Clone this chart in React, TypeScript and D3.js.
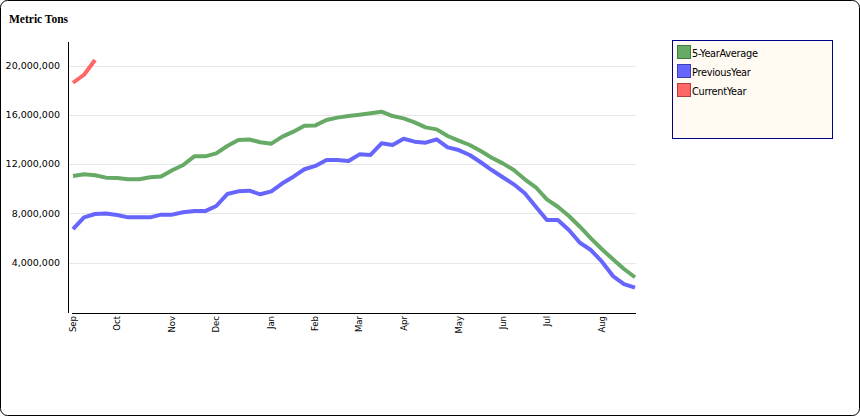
import React from "react";
import * as d3 from "d3";

const monthLabels = ["Sep", "Oct", "Nov", "Dec", "Jan", "Feb", "Mar", "Apr", "May", "Jun", "Jul", "Aug"];
const monthWeeks = [0, 4, 9, 13, 18, 22, 26, 30, 35, 39, 43, 48];
const yTicks = [4000000, 8000000, 12000000, 16000000, 20000000];

const fiveYearAverage = [
  11.03, 11.17, 11.09, 10.9, 10.87, 10.77, 10.77, 10.93, 11.0, 11.5,
  11.93, 12.63, 12.63, 12.87, 13.47, 13.95, 14.0, 13.77, 13.66, 14.23,
  14.63, 15.12, 15.14, 15.58, 15.77, 15.9, 16.01, 16.12, 16.25, 15.9,
  15.71, 15.39, 14.98, 14.82, 14.28, 13.9, 13.55, 13.06, 12.52, 12.06,
  11.52, 10.77, 10.12, 9.14, 8.54, 7.79, 6.92, 5.98, 5.09, 4.28,
  3.49, 2.82,
];
const previousYear = [
  6.73, 7.68, 7.95, 8.0, 7.87, 7.68, 7.68, 7.68, 7.9, 7.9,
  8.09, 8.19, 8.19, 8.6, 9.57, 9.79, 9.84, 9.55, 9.79, 10.44,
  10.98, 11.58, 11.85, 12.33, 12.33, 12.25, 12.79, 12.74, 13.69, 13.55,
  14.06, 13.82, 13.74, 14.01, 13.36, 13.14, 12.74, 12.15, 11.52, 10.93,
  10.36, 9.63, 8.54, 7.46, 7.46, 6.65, 5.62, 5.03, 4.08, 2.92,
  2.27, 1.97,
];
const currentYear = [18.6, 19.25, 20.45];

const seriesNames = ["5-YearAverage", "PreviousYear", "CurrentYear"];
const seriesColors = ["#66AA66", "#6666FF", "#FF6666"];
const seriesStroke = ["#3f7a3f", "#3f3fb0", "#b04040"];

export default function App() {
  const W = 860;
  const H = 416;
  const x = d3.scaleLinear().domain([0, 51]).range([73, 635]);
  const y = d3.scaleLinear().domain([0, 20000000]).range([312, 65.5]);
  const line = d3
    .line<number>()
    .x((_, i) => x(i))
    .y((d) => y(d * 1e6));
  const fmt = d3.format(",");
  const allSeries = [fiveYearAverage, previousYear, currentYear];
  const sans = "'DejaVu Sans', Verdana, sans-serif";

  return (
    <svg
      width={W}
      height={H}
      style={{ position: "absolute", left: 0, top: 0, display: "block" }}
    >
      <rect x={0.5} y={0.5} width={W - 1} height={H - 1} rx={7} ry={7} fill="#fff" stroke="#000" />
      <text
        x={9}
        y={23}
        fontFamily="'Liberation Serif', 'Times New Roman', serif"
        fontWeight="bold"
        fontSize={11.5}
        fill="#000"
      >
        Metric Tons
      </text>

      {yTicks.map((t) => (
        <g key={t}>
          <line x1={69} x2={636} y1={Math.round(y(t)) + 0.5} y2={Math.round(y(t)) + 0.5} stroke="#e8e8e8" />
          <text
            x={60}
            y={y(t)}
            dy="0.35em"
            textAnchor="end"
            fontFamily={sans}
            fontSize={9.5}
            fill="#000"
          >
            {fmt(t)}
          </text>
        </g>
      ))}

      <line x1={68.5} x2={68.5} y1={42} y2={313} stroke="#000" />
      <line x1={72} x2={636} y1={313.5} y2={313.5} stroke="#000" />

      {monthLabels.map((m, i) => (
        <text
          key={m}
          transform={`translate(${x(monthWeeks[i])},316) rotate(-90)`}
          textAnchor="end"
          dy="0.35em"
          fontFamily={sans}
          fontSize={8.5}
          fill="#000"
        >
          {m}
        </text>
      ))}

      {allSeries.map((s, i) => (
        <path
          key={seriesNames[i]}
          d={line(s) || ""}
          fill="none"
          stroke={seriesColors[i]}
          strokeWidth={4}
          strokeLinejoin="round"
        />
      ))}

      <rect x={672.5} y={40.5} width={160} height={98} fill="#FFFAF2" stroke="#00008B" />
      {seriesNames.map((n, i) => (
        <g key={n}>
          <rect
            x={677.5}
            y={45.5 + i * 19}
            width={13}
            height={13}
            fill={seriesColors[i]}
            stroke={seriesStroke[i]}
          />
          <text
            x={692}
            y={56.5 + i * 19}
            fontFamily={sans}
            fontSize={9.8}
            letterSpacing={-0.3}
            fill="#000"
          >
            {n}
          </text>
        </g>
      ))}
    </svg>
  );
}
